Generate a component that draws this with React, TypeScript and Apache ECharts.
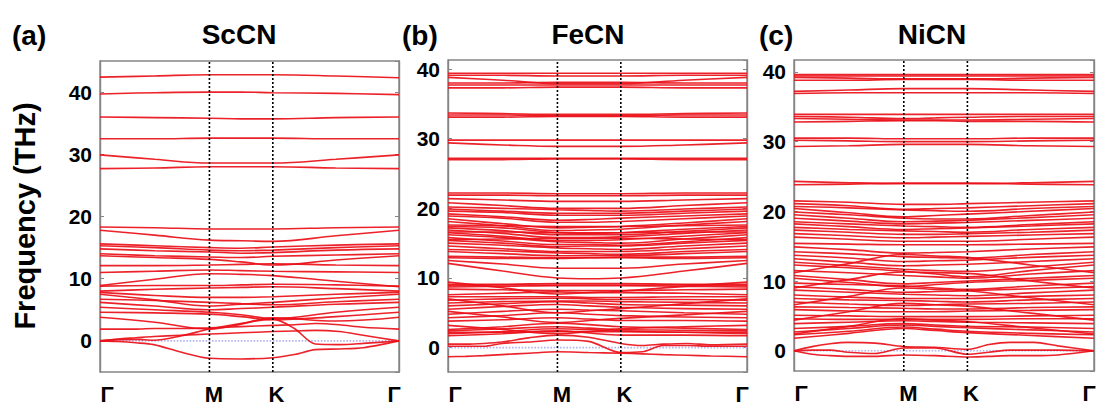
import React, { useEffect, useRef } from "react";
import * as echarts from "echarts";

// k-path grids (fraction of the Γ-M-K-Γ path length)
const K7 = [0, 0.183, 0.366, 0.472, 0.578, 0.789, 1];
const K13 = [0, 0.06, 0.12, 0.18, 0.27, 0.366, 0.47, 0.578, 0.65, 0.72, 0.8, 0.88, 1];
const KPOINT_POS = [0, 0.366, 0.578, 1];
const KPOINT_LABELS = ["Γ", "M", "K", "Γ"];

const PANEL_LETTERS = ["(a)", "(b)", "(c)"];
const PANEL_NAMES = ["ScCN", "FeCN", "NiCN"];
const Y_MIN = [-5, -3.5, -2.9];
const Y_MAX = [45, 41.3, 41.7];

// ---------- ScCN (THz) on K7 ----------
const SC_BANDS = [
  [42.4, 42.6, 42.8, 42.8, 42.8, 42.6, 42.3],
  [39.7, 39.9, 40.0, 40.0, 39.9, 39.8, 39.6],
  [36.0, 35.9, 35.8, 35.7, 35.7, 35.9, 36.0],
  [32.5, 32.5, 32.6, 32.6, 32.6, 32.5, 32.5],
  [29.9, 29.2, 28.6, 28.6, 28.6, 29.2, 29.9],
  [27.7, 27.8, 28.0, 28.0, 28.0, 27.8, 27.7],
  [18.3, 18.2, 18.0, 18.0, 18.0, 18.2, 18.3],
  [17.8, 17.0, 16.2, 16.1, 16.0, 16.9, 17.8],
  [15.6, 15.3, 15.0, 14.9, 15.1, 15.4, 15.6],
  [15.3, 15.0, 14.6, 14.5, 14.6, 15.0, 15.3],
  [14.8, 14.5, 14.3, 14.1, 14.2, 14.6, 14.8],
  [14.0, 13.7, 13.5, 13.4, 13.6, 13.8, 14.0],
  [13.7, 13.4, 13.1, 12.7, 12.2, 13.0, 13.7],
  [12.1, 12.1, 12.2, 12.3, 12.4, 12.2, 12.1],
  [11.0, 11.2, 11.4, 11.3, 11.2, 11.1, 11.0],
  [8.9, 9.9, 10.8, 10.7, 10.5, 9.6, 8.7],
  [8.8, 8.9, 8.9, 9.0, 9.1, 9.0, 8.8],
  [8.0, 8.3, 8.5, 8.6, 8.7, 8.4, 8.0],
  [7.8, 7.3, 7.0, 7.0, 7.1, 7.5, 7.8],
  [7.5, 6.6, 5.6, 5.9, 6.2, 6.9, 7.5],
  [6.7, 6.5, 6.2, 6.0, 5.8, 6.3, 6.7],
  [6.2, 5.6, 5.0, 5.2, 5.4, 5.9, 6.2],
  [5.4, 5.0, 4.6, 4.2, 3.6, 4.6, 5.4],
  [4.6, 4.5, 4.3, 3.9, 3.4, 3.9, 4.6],
  [3.8, 3.0, 1.9, 2.7, 3.7, 3.2, 3.8],
];
// ScCN low bands on K13
const SC_LOW = [
  [0, -0.1, -0.3, -0.6, -1.8, -2.8, -2.9, -2.7, -2.2, -1.4, -1.3, -1.1, 0],
  [0, 0.2, 0.25, 0.1, 0.8, 1.9, 2.8, 3.5, 2.0, -0.5, -0.6, -0.4, 0],
  [0, 0.3, 0.5, 0.7, 0.9, 1.1, 1.3, 1.5, 1.6, 1.7, 1.5, 0.9, 0],
  [1.9, 1.9, 1.9, 2.0, 2.0, 2.1, 2.3, 2.5, 2.6, 2.8, 2.6, 2.2, 1.9],
];

// ---------- FeCN (THz) on K7 ----------
const FE_BANDS = [
  [39.4, 39.4, 39.4, 39.4, 39.4, 39.4, 39.4],
  [39.1, 39.1, 39.0, 39.0, 39.0, 39.1, 39.1],
  [38.8, 38.4, 37.9, 37.9, 37.9, 38.4, 38.8],
  [38.0, 38.0, 38.1, 38.1, 38.1, 38.0, 38.0],
  [37.7, 37.7, 37.7, 37.7, 37.7, 37.7, 37.7],
  [37.3, 37.3, 37.4, 37.4, 37.4, 37.3, 37.3],
  [33.7, 33.6, 33.5, 33.5, 33.5, 33.6, 33.7],
  [33.4, 33.4, 33.3, 33.3, 33.3, 33.4, 33.4],
  [33.1, 33.1, 33.2, 33.2, 33.2, 33.1, 33.1],
  [29.8, 29.8, 29.8, 29.8, 29.8, 29.8, 29.8],
  [29.4, 29.1, 28.9, 28.9, 28.9, 29.1, 29.4],
  [27.2, 27.2, 27.2, 27.2, 27.2, 27.2, 27.2],
  [27.0, 27.0, 27.1, 27.1, 27.1, 27.0, 27.0],
  [22.2, 22.2, 22.1, 22.1, 22.1, 22.2, 22.2],
  [21.9, 21.9, 21.8, 21.8, 21.8, 21.9, 21.9],
  [21.4, 21.2, 21.0, 21.0, 21.0, 21.2, 21.4],
  [20.8, 20.4, 20.0, 20.0, 20.0, 20.4, 20.8],
  [20.2, 20.0, 19.8, 19.7, 19.6, 19.9, 20.2],
  [19.9, 19.6, 19.3, 19.3, 19.3, 19.6, 19.9],
  [19.6, 19.4, 19.0, 19.0, 19.0, 19.3, 19.6],
  [19.2, 18.8, 18.3, 18.4, 18.6, 18.9, 19.2],
  [18.9, 18.6, 18.0, 18.0, 18.1, 18.5, 18.9],
  [18.5, 17.8, 17.2, 17.3, 17.4, 17.9, 18.5],
  [18.1, 17.5, 16.8, 16.9, 17.0, 17.6, 18.1],
  [17.6, 17.5, 17.4, 17.4, 17.4, 17.5, 17.6],
  [17.4, 17.2, 16.5, 16.4, 16.5, 17.0, 17.4],
  [17.2, 16.8, 16.2, 16.2, 16.2, 16.7, 17.2],
  [16.9, 16.4, 15.8, 15.8, 15.9, 16.4, 16.9],
  [16.6, 16.6, 16.5, 16.5, 16.5, 16.6, 16.6],
  [16.5, 16.0, 15.4, 15.4, 15.5, 16.0, 16.5],
  [16.2, 15.8, 15.2, 15.1, 15.0, 15.6, 16.2],
  [15.8, 15.3, 14.8, 14.8, 14.7, 15.2, 15.8],
  [15.5, 15.6, 15.7, 15.7, 15.7, 15.6, 15.5],
  [15.4, 15.0, 14.5, 14.6, 14.6, 15.0, 15.4],
  [15.0, 14.7, 14.3, 14.2, 14.1, 14.6, 15.0],
  [14.6, 14.2, 13.8, 13.8, 13.8, 14.2, 14.6],
  [14.1, 13.9, 13.6, 13.5, 13.4, 13.8, 14.1],
  [13.8, 13.5, 13.2, 13.2, 13.2, 13.5, 13.8],
  [13.1, 13.0, 12.9, 12.9, 13.0, 13.0, 13.1],
  [12.9, 12.8, 12.8, 12.9, 12.9, 12.8, 12.9],
  [12.5, 12.0, 11.4, 11.4, 11.4, 12.0, 12.5],
  [12.1, 11.0, 10.0, 9.9, 10.0, 11.0, 12.1],
  [9.4, 8.6, 7.7, 7.9, 8.1, 8.8, 9.4],
  [9.1, 9.1, 9.2, 9.2, 9.2, 9.1, 9.1],
  [8.9, 9.0, 9.0, 9.0, 9.0, 9.0, 8.9],
  [8.7, 8.8, 8.9, 8.9, 8.9, 8.8, 8.7],
  [8.4, 8.3, 8.2, 8.2, 8.2, 8.3, 8.4],
  [7.6, 7.8, 8.0, 7.9, 7.9, 7.8, 7.6],
  [7.3, 7.3, 7.3, 7.2, 7.2, 7.3, 7.3],
  [7.0, 6.0, 5.0, 5.3, 5.6, 6.3, 7.0],
  [6.8, 7.0, 7.1, 7.0, 6.9, 6.9, 6.8],
  [6.4, 6.6, 6.7, 6.7, 6.6, 6.5, 6.4],
  [6.0, 6.3, 6.6, 6.4, 6.2, 6.1, 6.0],
  [5.5, 5.9, 6.2, 6.0, 5.8, 5.6, 5.5],
  [5.2, 4.4, 3.6, 3.9, 4.2, 4.7, 5.2],
  [4.8, 5.2, 5.5, 5.4, 5.3, 5.0, 4.8],
  [4.3, 4.6, 5.0, 4.8, 4.6, 4.4, 4.3],
  [3.8, 4.0, 4.3, 4.1, 3.9, 3.9, 3.8],
  [3.2, 2.6, 2.0, 2.3, 2.7, 3.0, 3.2],
  [2.6, 3.0, 3.5, 3.3, 3.0, 2.8, 2.6],
  [2.4, 2.7, 3.0, 2.8, 2.6, 2.5, 2.4],
  [2.2, 2.2, 2.3, 2.3, 2.3, 2.2, 2.2],
  [2.0, 2.3, 2.7, 2.6, 2.4, 2.2, 2.0],
  [1.7, 2.0, 2.4, 2.1, 1.8, 1.8, 1.7],
];
// FeCN low bands on K13
const FE_LOW = [
  [-1.3, -1.25, -1.15, -1.0, -0.8, -0.6, -0.7, -0.8, -0.9, -1.0, -1.1, -1.2, -1.3],
  [0.2, 0.2, 0.2, 0.6, 0.8, 1.1, 0.9, -0.7, -0.6, 0.3, 0.3, 0.2, 0.2],
  [0.5, 0.5, 0.6, 0.8, 1.4, 1.8, 1.5, 0.6, 0.3, 0.5, 0.6, 0.4, 0.5],
];

// ---------- NiCN (THz) on K7 ----------
const NI_BANDS = [
  [39.6, 39.6, 39.6, 39.6, 39.6, 39.6, 39.6],
  [39.4, 39.4, 39.4, 39.4, 39.4, 39.4, 39.4],
  [39.2, 39.1, 39.0, 39.0, 39.0, 39.1, 39.2],
  [38.8, 38.8, 38.9, 38.9, 38.9, 38.8, 38.8],
  [37.2, 37.4, 37.6, 37.6, 37.6, 37.4, 37.2],
  [36.9, 37.0, 37.0, 37.0, 37.0, 37.0, 36.9],
  [33.9, 33.9, 33.9, 33.9, 33.9, 33.9, 33.9],
  [33.6, 33.5, 33.3, 33.4, 33.5, 33.6, 33.6],
  [33.3, 33.2, 33.1, 33.1, 33.1, 33.2, 33.3],
  [32.8, 32.9, 33.0, 33.0, 32.9, 32.9, 32.8],
  [30.5, 30.5, 30.4, 30.4, 30.4, 30.5, 30.5],
  [30.2, 30.1, 30.0, 30.0, 30.0, 30.1, 30.2],
  [29.3, 29.4, 29.6, 29.6, 29.6, 29.4, 29.3],
  [24.3, 24.1, 24.0, 24.0, 24.0, 24.1, 24.3],
  [23.8, 23.9, 24.0, 24.0, 24.0, 23.9, 23.8],
  [21.5, 21.3, 21.0, 21.0, 21.1, 21.3, 21.5],
  [21.1, 20.8, 20.3, 20.4, 20.5, 20.8, 21.1],
  [20.7, 20.5, 20.2, 20.1, 20.0, 20.4, 20.7],
  [20.4, 19.8, 19.2, 19.4, 19.6, 20.0, 20.4],
  [19.9, 19.5, 19.0, 18.9, 18.9, 19.4, 19.9],
  [19.5, 19.0, 18.5, 18.6, 18.7, 19.1, 19.5],
  [19.0, 18.6, 18.2, 18.3, 18.4, 18.7, 19.0],
  [18.5, 18.2, 17.9, 17.8, 17.7, 18.1, 18.5],
  [18.2, 17.8, 17.4, 17.5, 17.6, 17.9, 18.2],
  [17.7, 17.4, 17.2, 17.1, 17.0, 17.4, 17.7],
  [17.3, 17.0, 16.7, 16.7, 16.8, 17.0, 17.3],
  [16.8, 16.5, 16.2, 16.3, 16.4, 16.6, 16.8],
  [16.3, 16.0, 15.7, 15.7, 15.7, 16.0, 16.3],
  [15.4, 15.3, 15.2, 15.2, 15.2, 15.3, 15.4],
  [14.9, 14.5, 14.0, 14.1, 14.2, 14.6, 14.9],
  [14.2, 13.9, 13.5, 13.4, 13.3, 13.8, 14.2],
  [13.7, 13.3, 12.8, 12.9, 13.0, 13.4, 13.7],
  [13.2, 12.7, 12.2, 12.3, 12.4, 12.8, 13.2],
  [12.7, 12.2, 11.7, 11.5, 11.4, 12.0, 12.7],
  [12.3, 11.9, 11.4, 11.0, 10.6, 11.5, 12.3],
  [11.2, 12.5, 13.8, 13.6, 13.4, 12.3, 11.2],
  [11.5, 11.2, 10.8, 10.6, 10.4, 11.0, 11.5],
  [10.8, 10.2, 9.6, 9.8, 10.0, 10.4, 10.8],
  [10.4, 9.8, 9.2, 9.5, 9.8, 10.1, 10.4],
  [9.7, 9.5, 9.3, 9.0, 8.8, 9.3, 9.7],
  [9.2, 8.8, 8.4, 8.5, 8.6, 8.9, 9.2],
  [9.0, 10.2, 11.3, 11.2, 11.1, 10.0, 9.0],
  [8.7, 8.4, 8.1, 8.0, 7.9, 8.3, 8.7],
  [8.0, 7.7, 7.5, 7.5, 7.5, 7.8, 8.0],
  [7.5, 7.3, 7.2, 7.1, 7.0, 7.3, 7.5],
  [7.0, 6.7, 6.5, 6.6, 6.7, 6.8, 7.0],
  [6.6, 7.8, 9.0, 8.8, 8.6, 7.6, 6.6],
  [6.3, 6.2, 6.1, 6.0, 6.0, 6.2, 6.3],
  [5.9, 5.7, 5.6, 5.6, 5.7, 5.8, 5.9],
  [5.1, 5.0, 4.9, 4.9, 4.9, 5.0, 5.1],
  [4.6, 4.5, 4.5, 4.5, 4.5, 4.6, 4.6],
  [4.4, 5.6, 6.8, 6.6, 6.4, 5.4, 4.4],
  [3.9, 4.1, 4.3, 4.2, 4.1, 4.0, 3.9],
  [3.2, 3.5, 3.9, 3.7, 3.5, 3.4, 3.2],
  [2.7, 3.2, 3.7, 3.5, 3.3, 3.0, 2.7],
  [2.4, 3.5, 4.6, 4.4, 4.2, 3.3, 2.4],
  [2.3, 2.8, 3.4, 3.1, 2.8, 2.5, 2.3],
  [1.8, 2.5, 3.2, 2.9, 2.6, 2.2, 1.8],
];
// NiCN low bands on K13
const NI_LOW = [
  [0, -0.5, -0.7, -0.8, -0.8, -0.6, -0.7, -0.9, -0.8, -0.7, -0.7, -0.6, 0],
  [0, 0.1, 0.1, -0.2, -0.4, 0.4, 0.4, -0.5, -0.2, 0.1, 0.1, 0.1, 0],
  [0, 0.6, 1.0, 1.2, 1.1, 0.6, 0.5, 0.2, 0.9, 1.2, 1.2, 0.7, 0],
];

const PANEL_BANDS = [SC_BANDS, FE_BANDS, NI_BANDS];
const PANEL_LOW = [SC_LOW, FE_LOW, NI_LOW];

const RED = "#ea0f18";
const FONT = "Arial, 'Liberation Sans', Helvetica, sans-serif";

// layout (pixels)
const GRIDS = [
  { left: 100, top: 61, width: 299, height: 311 },
  { left: 448, top: 60, width: 299, height: 312 },
  { left: 794, top: 60, width: 300, height: 311 },
];
const TITLE_X = [239, 588, 932];
const LETTER_X = [12, 402, 759];

export default function App() {
  const ref = useRef<HTMLDivElement>(null);
  useEffect(() => {
    if (!ref.current) return;
    const chart = echarts.init(ref.current, undefined, { renderer: "svg" });

    const grid: any[] = [];
    const xAxis: any[] = [];
    const yAxis: any[] = [];
    const series: any[] = [];
    const graphic: any[] = [];

    const labelRich = (pad: number[]) => ({
      fontSize: 22,
      fontWeight: "bold",
      fontFamily: FONT,
      color: "#000",
      padding: pad,
    });

    GRIDS.forEach((g, p) => {
      grid.push({
        ...g,
        show: true,
        borderColor: "#858585",
        borderWidth: 1.4,
        backgroundColor: "#fff",
      });
      xAxis.push({
        type: "value",
        gridIndex: p,
        min: 0,
        max: 1,
        axisLine: { show: false },
        axisTick: { show: false },
        splitLine: { show: false },
        axisLabel: {
          customValues: KPOINT_POS,
          margin: 11,
          formatter: (v: number) => {
            const i = KPOINT_POS.indexOf(v);
            const key = ["a", "b", "c", "d"][i];
            return i >= 0 ? `{${key}|${KPOINT_LABELS[i]}}` : "";
          },
          rich: {
            a: labelRich([0, 0, 0, 14]),
            b: labelRich([0, 0, 0, 9]),
            c: labelRich([0, 0, 0, 7]),
            d: labelRich([0, 10, 0, 0]),
          },
        },
      });
      const yCommon = {
        type: "value",
        gridIndex: p,
        min: Y_MIN[p],
        max: Y_MAX[p],
        splitNumber: 5,
        splitLine: { show: false },
        axisLine: { show: true, lineStyle: { color: "#858585", width: 1.4 } },
        axisTick: { show: true, inside: true, length: 4, lineStyle: { color: "#858585" } },
      };
      yAxis.push({
        ...yCommon,
        position: "left",
        axisLabel: {
          show: true,
          showMinLabel: false,
          showMaxLabel: false,
          margin: 8,
          fontSize: 21,
          fontWeight: "bold",
          fontFamily: FONT,
          color: "#000",
          formatter: (v: number) => (Math.abs(v % 10) < 1e-6 ? String(v) : ""),
        },
      });
      yAxis.push({
        ...yCommon,
        position: "right",
        axisLabel: { show: false },
      });

      // zero line
      series.push({
        type: "line",
        xAxisIndex: p,
        yAxisIndex: 2 * p,
        data: [[0, 0], [1, 0]],
        symbol: "none",
        silent: true,
        z: 1,
        lineStyle: { color: "#b4b4f2", width: 1.6, type: "dotted" },
      });

      PANEL_BANDS[p].forEach((band) => {
        series.push({
          type: "line",
          xAxisIndex: p,
          yAxisIndex: 2 * p,
          data: K7.map((k, i) => [k, band[i]]),
          smooth: 0.4,
          symbol: "none",
          silent: true,
          z: 2,
          lineStyle: { color: RED, width: 1.6, opacity: 0.92 },
        });
      });
      PANEL_LOW[p].forEach((band) => {
        series.push({
          type: "line",
          xAxisIndex: p,
          yAxisIndex: 2 * p,
          data: K13.map((k, i) => [k, band[i]]),
          smooth: 0.3,
          symbol: "none",
          silent: true,
          z: 2,
          lineStyle: { color: RED, width: 1.6, opacity: 0.92 },
        });
      });

      // high-symmetry vertical lines (M, K)
      [KPOINT_POS[1], KPOINT_POS[2]].forEach((kx) => {
        series.push({
          type: "line",
          xAxisIndex: p,
          yAxisIndex: 2 * p,
          data: [[kx, Y_MIN[p]], [kx, Y_MAX[p]]],
          symbol: "none",
          silent: true,
          z: 5,
          lineStyle: { color: "#000", width: 1.6, type: [2, 2] },
        });
      });

      graphic.push({
        type: "text",
        x: LETTER_X[p],
        y: 35,
        style: {
          text: PANEL_LETTERS[p],
          font: `bold 28px ${FONT}`,
          fill: "#000",
          textAlign: "left",
          textVerticalAlign: "middle",
        },
      });
      graphic.push({
        type: "text",
        x: TITLE_X[p],
        y: 34,
        style: {
          text: PANEL_NAMES[p],
          font: `bold 28px ${FONT}`,
          fill: "#000",
          textAlign: "center",
          textVerticalAlign: "middle",
        },
      });
    });

    graphic.push({
      type: "text",
      x: 25,
      y: 216,
      rotation: Math.PI / 2,
      style: {
        text: "Frequency (THz)",
        font: `bold 29px ${FONT}`,
        fill: "#000",
        textAlign: "center",
        textVerticalAlign: "middle",
      },
    });

    chart.setOption({
      animation: false,
      backgroundColor: "#fff",
      grid,
      xAxis,
      yAxis,
      series,
      graphic,
    });
    return () => chart.dispose();
  }, []);

  return (
    <div
      ref={ref}
      style={{ position: "fixed", left: 0, top: 0, width: 1104, height: 405 }}
    />
  );
}
